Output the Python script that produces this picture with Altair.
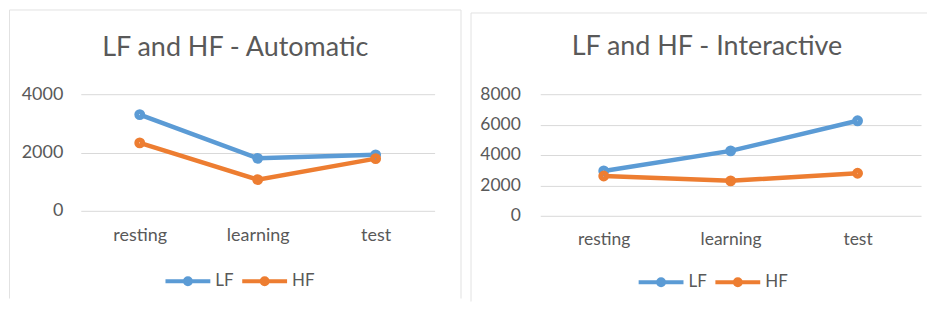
import altair as alt
import pandas as pd

phases = ["resting", "learning", "test"]
series = ["LF", "HF"]
auto_lf = [3300, 1800, 1920]
auto_hf = [2330, 1070, 1790]
inter_lf = [2950, 4270, 6250]
inter_hf = [2620, 2300, 2800]
auto_ticks = [0, 2000, 4000]
inter_ticks = [0, 2000, 4000, 6000, 8000]

colors = ["#5B9BD5", "#ED7D31"]
TEXT = "#595959"
GRID = "#D9D9D9"
BORDER = "#E2E2E2"
FONT = "Lato"
# line with a solid dot, drawn by stroke only (two concentric rings fill the dot)
LEGEND_SYMBOL = ("M-4.5,0H4.5"
                 "M0.6,0A0.6,0.6,0,1,1,-0.6,0A0.6,0.6,0,1,1,0.6,0Z"
                 "M0.2,0A0.2,0.2,0,1,1,-0.2,0A0.2,0.2,0,1,1,0.2,0Z")
ONE = pd.DataFrame({"k": [0]})


def frame(lf, hf):
    rows = []
    for s, vals in (("LF", lf), ("HF", hf)):
        for p, v in zip(phases, vals):
            rows.append({"phase": p, "series": s, "value": v})
    return pd.DataFrame(rows)


def vrule(xv, y1, y2):
    return alt.Chart(ONE).mark_rule(color=BORDER, strokeWidth=1).encode(
        x=alt.value(xv), y=alt.value(y1), y2=alt.value(y2))


def hrule(yv, x1, x2):
    return alt.Chart(ONE).mark_rule(color=BORDER, strokeWidth=1).encode(
        y=alt.value(yv), x=alt.value(x1), x2=alt.value(x2))


def panel(df, title, ymax, yvals, w, h, borders, title_offset, title_dx, lxy, fs, ypad, xpad):
    x = alt.X(
        "phase:N", sort=phases, title=None,
        scale=alt.Scale(type="point", padding=0.5),
        axis=alt.Axis(labelAngle=0, labelFont=FONT, labelFontSize=fs, labelColor=TEXT,
                      labelPadding=xpad, labelBaseline="alphabetic", domain=False,
                      ticks=False, tickSize=0, grid=False),
    )
    y = alt.Y(
        "value:Q", title=None,
        scale=alt.Scale(domain=[0, ymax], nice=False),
        axis=alt.Axis(values=yvals, grid=True, gridColor=GRID, gridWidth=1, domain=False,
                      ticks=False, tickSize=0, labelFont=FONT, labelFontSize=fs,
                      labelColor=TEXT, labelPadding=ypad, format="d"),
    )
    legend = alt.Legend(
        orient="none", legendX=lxy[0], legendY=lxy[1], direction="horizontal",
        title=None, symbolType=LEGEND_SYMBOL, symbolSize=100, symbolStrokeWidth=4,
        labelFont=FONT, labelFontSize=17, labelColor=TEXT, labelOffset=19,
        columnPadding=0, padding=0, symbolOpacity=1,
    )
    color = alt.Color("series:N", sort=series,
                      scale=alt.Scale(domain=series, range=colors), legend=legend)
    line = alt.Chart(df).mark_line(strokeWidth=4.5).encode(x=x, y=y, color=color)
    pts = alt.Chart(df).mark_point(filled=False, size=24, strokeWidth=6, opacity=1).encode(
        x=x, y=y, color=color)
    return alt.layer(*borders, line, pts).properties(
        width=w, height=h,
        title=alt.TitleParams(text=title, font=FONT, fontSize=27, fontWeight="normal",
                              color=TEXT, anchor="middle", offset=title_offset,
                              dx=title_dx, baseline="alphabetic", frame="bounds"),
    )


left_borders = [
    vrule(-71.5, -84.5, 205),
    vrule(381.5, -84.5, 205),
    hrule(-84.5, -71.5, 381.5),
]
right_borders = [
    vrule(-69.5, -81.5, 208),
    hrule(-81.5, -69.5, 388),
]

left = panel(frame(auto_lf, auto_hf), "LF and HF - Automatic", 4000, auto_ticks,
             355, 117, left_borders, -74, 0, (99, 179), 18, 18, 30)
right = panel(frame(inter_lf, inter_hf), "LF and HF - Interactive", 8000, inter_ticks,
              382, 122, right_borders, -70, 8, (112.7, 180), 17.5, 20, 29)

chart = alt.hconcat(left, right, spacing=7).resolve_legend(color="independent").properties(
    padding=0, background="white"
).configure_view(stroke="transparent")

chart.save("out.html", embed_options={"renderer": "svg", "actions": False})
